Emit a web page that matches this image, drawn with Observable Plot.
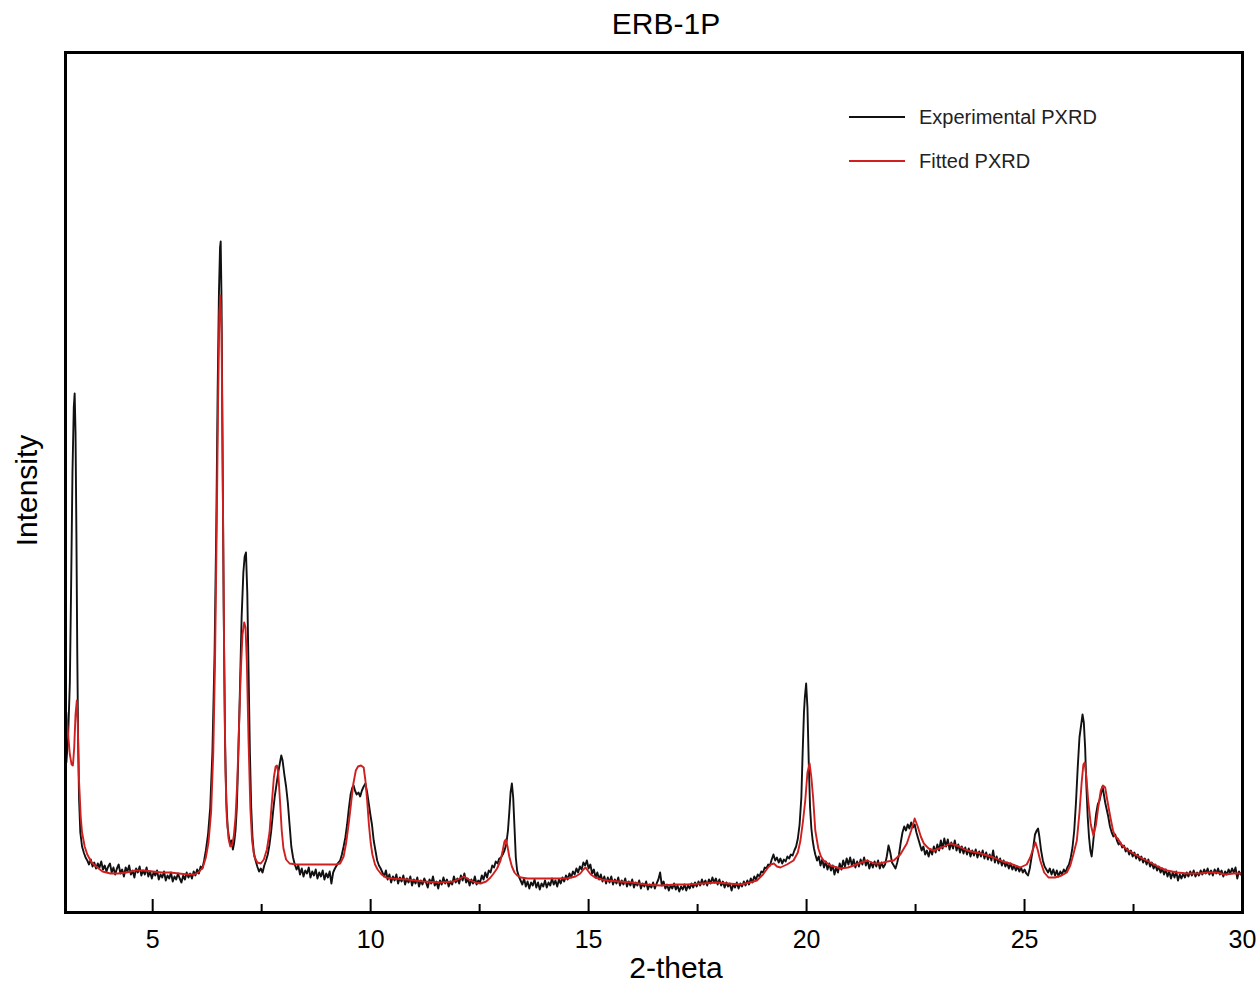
<!DOCTYPE html>
<html><head><meta charset="utf-8">
<script src="https://cdn.jsdelivr.net/npm/d3@7"></script>
<script src="https://cdn.jsdelivr.net/npm/@observablehq/plot@0.6"></script>
<style>
body{margin:0;background:#fff;}
#wrap{position:relative;width:1260px;height:985px;}
.legend{position:absolute;left:849px;top:95px;font:20px "Liberation Sans",Arial,sans-serif;color:#222;}
.legend div{display:flex;align-items:center;height:44px;}
.legend .sw{display:inline-block;width:56px;height:0;border-top:2px solid;margin-right:14px;}
</style></head><body><div id="wrap"></div>
<script>
const chartTitle = "ERB-1P";
const xLabel = "2-theta";
const yLabel = "Intensity";
const seriesNames = ["Experimental PXRD", "Fitted PXRD"];
const seriesColors = ["#111111", "#d01f1f"];
const xTicksMajor = [5, 10, 15, 20, 25, 30];
const xTicksMinor = [7.5, 12.5, 17.5, 22.5, 27.5];

// [2-theta, intensity]
const experimental = [
[3.02,150],[3.06,175],[3.10,230],[3.13,330],[3.16,440],[3.19,505],[3.21,519],[3.23,480],[3.25,380],[3.27,260],[3.29,170],[3.31,115],[3.34,80],[3.38,66],[3.42,60],[3.46,55],[3.50,52],
[3.54,48],[3.58,53],[3.62,46],[3.66,50],[3.70,44],[3.74,49],[3.78,45],[3.82,51],[3.86,43],[3.90,47],[3.94,41],[3.98,46],[4.02,49],[4.06,40],[4.10,45],[4.14,38],[4.18,44],[4.22,48],[4.26,39],[4.30,43],[4.34,36],[4.38,45],[4.42,41],[4.46,47],[4.50,38],[4.54,42],[4.58,35],[4.62,44],[4.66,40],[4.70,46],[4.74,37],[4.78,42],[4.82,38],[4.86,45],[4.90,36],[4.94,41],[4.98,34],[5.02,40],[5.06,37],[5.10,42],[5.14,33],[5.18,38],[5.22,35],[5.26,41],[5.30,32],[5.34,37],[5.38,34],[5.42,40],[5.46,31],[5.50,36],[5.54,33],[5.58,39],[5.62,34],[5.66,30],[5.70,37],[5.74,33],[5.78,40],[5.82,35],[5.86,39],[5.90,34],[5.94,41],[5.98,37],[6.02,43],[6.06,39],[6.10,46],[6.14,44],[6.18,52],
[6.22,62],[6.27,78],[6.32,105],[6.37,160],[6.42,260],[6.46,390],[6.49,520],[6.52,620],[6.545,665],[6.56,671],[6.58,610],[6.60,480],[6.63,300],[6.66,170],[6.69,110],[6.72,85],[6.75,75],[6.78,68],[6.81,72],[6.84,63],[6.87,70],[6.90,82],[6.93,105],[6.96,150],[7.00,220],[7.04,295],[7.08,340],[7.11,356],[7.14,360],[7.17,320],[7.20,240],[7.23,160],[7.26,105],[7.29,75],[7.32,60],[7.36,52],[7.40,46],[7.44,41],[7.48,44],[7.52,40],[7.56,47],[7.60,52],[7.64,58],[7.68,68],[7.72,82],[7.76,100],[7.80,116],[7.84,128],[7.88,140],[7.92,150],[7.95,157],[7.98,152],[8.02,138],[8.06,126],[8.10,110],[8.14,88],[8.18,66],[8.22,55],
[8.26,48],[8.30,43],[8.34,47],[8.38,38],[8.42,44],[8.46,36],[8.50,42],[8.54,39],[8.58,45],[8.62,35],[8.66,41],[8.70,37],[8.74,43],[8.78,34],[8.82,40],[8.86,36],[8.90,42],[8.94,33],[8.98,39],[9.02,35],[9.06,41],[9.10,29],[9.14,40],[9.18,44],[9.22,47],[9.26,50],[9.30,52],[9.34,58],[9.38,66],[9.42,75],[9.46,88],[9.50,104],[9.54,118],[9.58,125],[9.61,127],[9.64,122],[9.68,118],[9.72,120],[9.76,116],[9.80,122],[9.84,126],[9.88,129],[9.92,120],[9.96,108],[10.00,96],[10.03,88],[10.07,72],[10.11,62],[10.15,52],[10.19,47],[10.23,44],
[10.27,40],[10.31,36],[10.35,42],[10.39,33],[10.43,38],[10.47,30],[10.51,36],[10.55,32],[10.59,38],[10.63,29],[10.67,35],[10.71,31],[10.75,37],[10.79,28],[10.83,34],[10.87,30],[10.91,36],[10.95,27],[10.99,33],[11.03,29],[11.07,35],[11.11,26],[11.15,32],[11.19,28],[11.23,34],[11.27,30],[11.31,25],[11.35,33],[11.39,29],[11.43,36],[11.47,27],[11.51,31],[11.55,24],[11.59,32],[11.63,28],[11.67,35],[11.71,29],[11.75,33],[11.79,26],[11.83,31],[11.87,28],[11.91,36],[11.95,30],[11.99,34],[12.03,29],[12.07,37],[12.11,32],[12.15,39],[12.19,30],[12.23,34],[12.27,27],[12.31,33],[12.35,29],[12.39,36],[12.43,28],[12.47,32],[12.51,30],[12.55,37],[12.59,33],[12.63,40],[12.67,35],[12.71,42],[12.75,40],[12.79,47],[12.83,45],[12.87,51],[12.91,49],[12.95,54],[12.99,55],[13.03,58],[13.07,62],[13.11,68],[13.15,82],[13.18,100],[13.21,120],[13.24,129],[13.27,115],[13.30,85],[13.33,55],[13.36,42],[13.40,36],[13.44,32],
[13.48,28],[13.52,34],[13.56,26],[13.60,31],[13.64,24],[13.68,30],[13.72,27],[13.76,33],[13.80,25],[13.84,30],[13.88,23],[13.92,29],[13.96,26],[14.00,32],[14.04,25],[14.08,30],[14.12,27],[14.16,34],[14.20,28],[14.24,32],[14.28,26],[14.32,33],[14.36,29],[14.40,35],[14.44,31],[14.48,37],[14.52,33],[14.56,39],[14.60,35],[14.64,41],[14.68,38],[14.72,44],[14.76,40],[14.80,46],[14.84,43],[14.88,50],[14.92,47],[14.96,52],[15.00,44],[15.04,48],[15.08,39],[15.12,43],[15.16,35],[15.20,40],[15.24,33],[15.28,38],[15.32,31],[15.36,36],[15.40,29],[15.44,35],[15.48,30],[15.52,36],[15.56,28],[15.60,33],[15.64,29],[15.68,35],[15.72,27],[15.76,32],[15.80,28],[15.84,34],[15.88,26],[15.92,31],[15.96,27],[16.00,33],[16.04,25],[16.08,30],[16.12,27],[16.16,32],[16.20,24],[16.24,29],[16.28,26],[16.32,31],[16.36,23],[16.40,28],[16.44,25],[16.48,30],[16.52,24],[16.56,29],[16.60,33],[16.64,40],[16.68,27],[16.72,31],[16.76,24],[16.80,28],[16.84,22],[16.88,27],[16.92,24],[16.96,29],[17.00,23],[17.04,27],[17.08,21],[17.12,26],[17.16,23],[17.20,28],[17.24,22],[17.28,27],[17.32,24],[17.36,29],[17.40,25],[17.44,30],[17.48,26],[17.52,31],[17.56,27],[17.60,33],[17.64,28],[17.68,32],[17.72,27],[17.76,33],[17.80,29],[17.84,35],[17.88,30],[17.92,34],[17.96,28],[18.00,33],[18.04,27],[18.08,31],[18.12,25],[18.16,30],[18.20,26],[18.24,29],[18.28,22],[18.32,28],[18.36,25],[18.40,30],[18.44,24],[18.48,29],[18.52,26],[18.56,31],[18.60,27],[18.64,32],[18.68,28],[18.72,34],[18.76,30],[18.80,36],[18.84,33],[18.88,38],[18.92,36],[18.96,41],[19.00,40],[19.04,45],[19.08,44],[19.12,48],[19.16,47],[19.20,53],[19.24,58],[19.28,52],[19.32,55],[19.36,50],[19.40,54],[19.44,49],[19.48,53],[19.52,51],[19.56,56],[19.60,54],[19.64,58],[19.68,57],[19.72,62],[19.76,66],[19.80,74],[19.84,88],[19.88,115],[19.91,160],[19.94,200],[19.96,215],[19.99,229],[20.02,205],[20.05,150],[20.08,105],[20.11,84],[20.14,72],[20.17,64],[20.20,58],
[20.24,52],[20.28,56],[20.32,47],[20.36,53],[20.40,45],[20.44,51],[20.48,43],[20.52,49],[20.56,42],[20.60,47],[20.64,38],[20.68,45],[20.72,40],[20.76,49],[20.80,43],[20.84,52],[20.88,46],[20.92,54],[20.96,48],[21.00,55],[21.04,47],[21.08,53],[21.12,45],[21.16,51],[21.20,46],[21.24,53],[21.28,48],[21.32,55],[21.36,47],[21.40,52],[21.44,44],[21.48,50],[21.52,45],[21.56,51],[21.60,46],[21.64,52],[21.68,44],[21.72,50],[21.76,45],[21.80,48],[21.84,56],[21.88,67],[21.92,60],[21.96,50],[22.00,47],[22.04,44],[22.08,50],[22.12,58],[22.16,70],[22.20,80],[22.24,86],[22.28,82],[22.32,88],[22.36,84],[22.40,90],[22.44,85],[22.48,88],[22.52,80],[22.56,74],[22.60,68],[22.64,62],[22.68,66],[22.72,58],[22.76,62],[22.80,56],[22.84,63],[22.88,58],[22.92,66],[22.96,60],[23.00,68],[23.04,62],[23.08,72],[23.12,64],[23.16,74],[23.20,66],[23.24,73],[23.28,63],[23.32,70],[23.36,64],[23.40,72],[23.44,62],[23.48,68],[23.52,60],[23.56,66],[23.60,59],[23.64,65],[23.68,58],[23.72,64],[23.76,56],[23.80,62],[23.84,57],[23.88,63],[23.92,55],[23.96,61],[24.00,56],[24.04,62],[24.08,54],[24.12,60],[24.16,53],[24.20,58],[24.24,52],[24.28,62],[24.32,50],[24.36,56],[24.40,49],[24.44,54],[24.48,47],[24.52,52],[24.56,46],[24.60,50],[24.64,44],[24.68,49],[24.72,43],[24.76,47],[24.80,42],[24.84,46],[24.88,41],[24.92,45],[24.96,40],[25.00,43],[25.04,39],[25.08,37],[25.12,44],[25.16,55],[25.20,65],[25.24,78],[25.28,82],[25.31,84],[25.34,76],[25.38,62],[25.42,52],[25.46,46],[25.50,43],[25.54,40],[25.58,44],[25.62,38],[25.66,43],[25.70,37],[25.74,42],[25.78,36],[25.82,41],[25.86,38],[25.90,43],[25.94,40],[25.98,45],[26.02,48],[26.06,55],[26.10,65],[26.14,82],[26.18,110],[26.22,145],[26.26,175],[26.30,188],[26.33,198],[26.36,190],[26.39,165],[26.42,125],[26.45,95],[26.48,75],[26.51,62],[26.54,56],[26.57,68],[26.60,82],[26.64,98],[26.68,108],[26.72,112],[26.76,120],[26.79,126],[26.82,118],[26.85,110],[26.88,104],[26.92,96],[26.96,86],[27.00,80],[27.04,76],[27.08,78],[27.12,72],[27.16,68],[27.20,70],[27.24,65],[27.28,67],[27.32,61],[27.36,64],[27.40,58],[27.44,62],[27.48,56],[27.52,60],[27.56,54],[27.60,58],[27.64,52],[27.68,56],[27.72,50],[27.76,54],[27.80,48],[27.84,53],[27.88,46],[27.92,50],[27.96,44],[28.00,48],[28.04,42],[28.08,46],[28.12,40],[28.16,44],[28.20,38],[28.24,43],[28.28,36],[28.32,41],[28.36,34],[28.40,40],[28.44,35],[28.48,41],[28.52,32],[28.56,38],[28.60,34],[28.64,39],[28.68,35],[28.72,40],[28.76,36],[28.80,41],[28.84,37],[28.88,42],[28.92,36],[28.96,40],[29.00,37],[29.04,42],[29.08,38],[29.12,43],[29.16,39],[29.20,44],[29.24,38],[29.28,42],[29.32,37],[29.36,43],[29.40,39],[29.44,44],[29.48,38],[29.52,42],[29.56,36],[29.60,41],[29.64,38],[29.68,43],[29.72,39],[29.76,44],[29.80,40],[29.84,45],[29.88,34],[29.92,41],[29.96,38],[30.00,40]
];

const fitted = [
[3.02,200],[3.06,178],[3.10,158],[3.14,148],[3.17,147],[3.20,165],[3.23,198],[3.26,212],[3.28,190],[3.31,132],[3.35,95],[3.38,80],[3.44,66],[3.50,58],[3.60,50],[3.73,45],[3.85,41],[4.03,39],[4.20,39],[4.40,40],[4.60,42],[4.80,42],[5.00,41],[5.20,40],[5.40,40],[5.60,39],[5.80,38],[5.95,38],[6.05,40],[6.15,45],[6.22,55],[6.28,70],[6.34,100],[6.39,160],[6.43,250],[6.47,390],[6.50,510],[6.53,600],[6.555,617],[6.58,580],[6.61,420],[6.64,250],[6.67,140],[6.70,95],[6.74,74],[6.78,66],[6.82,67],[6.86,76],[6.90,95],[6.94,130],[6.98,185],[7.02,240],[7.06,278],[7.10,290],[7.13,285],[7.16,250],[7.20,170],[7.24,105],[7.28,72],[7.33,56],[7.40,50],[7.48,49],[7.55,53],[7.62,63],[7.68,80],[7.73,108],[7.78,135],[7.82,146],[7.85,147],[7.88,140],[7.92,112],[7.96,82],[8.00,64],[8.06,53],[8.14,49],[8.30,48],[8.80,48],[9.20,48],[9.30,49],[9.38,56],[9.44,70],[9.50,90],[9.54,105],[9.60,128],[9.66,142],[9.71,146],[9.78,147],[9.84,145],[9.88,132],[9.92,112],[9.96,88],[10.00,70],[10.04,58],[10.10,48],[10.16,43],[10.25,38],[10.35,35],[10.50,34],[10.84,33],[11.20,31],[11.60,30],[11.90,31],[12.05,34],[12.14,36],[12.25,33],[12.40,30],[12.52,29],[12.65,31],[12.75,35],[12.82,39],[12.90,44],[12.98,52],[13.03,62],[13.07,71],[13.10,73],[13.14,66],[13.18,56],[13.24,46],[13.30,40],[13.36,37],[13.45,35],[13.60,34],[14.00,34],[14.50,34],[14.70,36],[14.81,39],[14.88,43],[14.93,45],[14.98,42],[15.05,38],[15.15,35],[15.30,33],[15.45,32],[15.70,31],[16.00,30],[16.30,28],[16.65,27],[17.00,28],[17.26,28],[17.60,29],[17.95,30],[18.20,29],[18.48,28],[18.70,30],[18.86,32],[19.00,38],[19.10,44],[19.18,48],[19.25,49],[19.32,46],[19.40,45],[19.55,48],[19.70,52],[19.80,60],[19.86,72],[19.92,92],[19.97,112],[20.02,140],[20.07,149],[20.11,135],[20.15,115],[20.20,82],[20.27,64],[20.33,56],[20.39,52],[20.55,47],[20.78,44],[20.95,45],[21.08,47],[21.25,50],[21.39,52],[21.55,49],[21.69,49],[21.85,51],[22.00,52],[22.15,58],[22.30,69],[22.40,82],[22.48,94],[22.55,86],[22.62,76],[22.69,69],[22.80,64],[22.92,62],[23.10,65],[23.30,69],[23.50,66],[23.68,62],[24.00,59],[24.29,55],[24.50,51],[24.67,49],[24.90,45],[25.05,48],[25.13,55],[25.20,64],[25.25,70],[25.30,63],[25.36,52],[25.45,40],[25.55,35],[25.70,35],[25.85,37],[25.97,40],[26.05,47],[26.12,58],[26.20,72],[26.26,100],[26.31,130],[26.35,148],[26.38,150],[26.42,135],[26.46,112],[26.52,88],[26.58,77],[26.64,88],[26.69,105],[26.75,122],[26.80,127],[26.85,125],[26.90,112],[26.97,95],[27.03,82],[27.08,76],[27.14,74],[27.22,68],[27.35,63],[27.50,59],[27.70,54],[27.89,50],[28.10,45],[28.27,42],[28.50,40],[28.73,39],[29.00,39],[29.20,40],[29.41,40],[29.60,38],[29.80,39],[30.00,39]
];

const font = '"Liberation Sans", Arial, Helvetica, sans-serif';

const chart = Plot.plot({
  width: 1260, height: 985,
  marginLeft: 65, marginRight: 18, marginTop: 52, marginBottom: 73,
  style: {fontFamily: font, background: "white", color: "black", overflow: "visible"},
  x: {domain: [3, 30]},
  y: {domain: [0, 860], axis: null},
  marks: [
    Plot.line(experimental, {x: d => d[0], y: d => d[1], stroke: seriesColors[0], strokeWidth: 1.9}),
    Plot.line(fitted, {x: d => d[0], y: d => d[1], stroke: seriesColors[1], strokeWidth: 1.9}),
    Plot.frame({stroke: "black", strokeWidth: 3}),
    Plot.axisX(xTicksMajor, {tickSize: -13, tickFormat: () => "", label: null, strokeWidth: 2}),
    Plot.axisX(xTicksMinor, {tickSize: -8, tickFormat: () => "", label: null, strokeWidth: 2}),
    Plot.axisX(xTicksMajor, {tickSize: 0, tickPadding: 18, fontSize: 25, label: null}),
    Plot.text([chartTitle], {frameAnchor: "top", lineAnchor: "middle", dx: 12, dy: -28, fontSize: 30}),
    Plot.text([xLabel], {frameAnchor: "bottom", lineAnchor: "middle", dx: 22, dy: 56, fontSize: 30}),
    Plot.text([yLabel], {frameAnchor: "left", textAnchor: "middle", lineAnchor: "middle", dx: -38, dy: 8, rotate: -90, fontSize: 30})
  ]
});

const wrap = document.getElementById("wrap");
wrap.appendChild(chart);
const legend = document.createElement("div");
legend.className = "legend";
seriesNames.forEach((name, i) => {
  const row = document.createElement("div");
  const sw = document.createElement("span");
  sw.className = "sw";
  sw.style.borderColor = seriesColors[i];
  row.appendChild(sw);
  row.appendChild(document.createTextNode(name));
  legend.appendChild(row);
});
wrap.appendChild(legend);
</script>
</body></html>
